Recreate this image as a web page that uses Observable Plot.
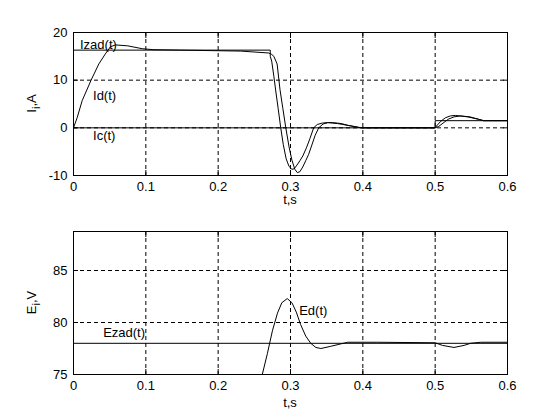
<!DOCTYPE html>
<html><head><meta charset="utf-8">
<script src="https://cdn.jsdelivr.net/npm/d3@7"></script>
<script src="https://cdn.jsdelivr.net/npm/@observablehq/plot@0.6"></script>
<style>
html,body{margin:0;padding:0;background:#fff;}
#chart{width:560px;height:420px;overflow:hidden;}
svg{display:block;}
</style></head><body><div id="chart"></div>
<script>
// ---- tick values and labels ----
const xTicks = [0, 0.1, 0.2, 0.3, 0.4, 0.5, 0.6];
const xTickLabels = ["0", "0.1", "0.2", "0.3", "0.4", "0.5", "0.6"];
const iTicks = [-10, 0, 10, 20];
const iTickLabels = ["-10", "0", "10", "20"];
const eTicks = [75, 80, 85];
const eTickLabels = ["75", "80", "85"];

// ---- top panel: currents ----
const izadT = [0, 0.272, 0.272, 0.274, 0.277, 0.280, 0.283, 0.2865, 0.290, 0.294, 0.298, 0.302, 0.305, 0.309, 0.313, 0.317, 0.322, 0.327, 0.332, 0.337, 0.344, 0.351, 0.365, 0.380, 0.394, 0.400, 0.500, 0.503, 0.508, 0.514, 0.521, 0.528, 0.545, 0.560, 0.567, 0.600];
const izadV = [16.3, 16.3, 15.0, 14.0, 10.8, 7.3, 4.0, 0.0, -3.5, -6.5, -8.1, -8.7, -8.6, -7.8, -6.9, -5.9, -4.2, -2.2, 0.0, 0.7, 1.0, 1.1, 0.9, 0.5, 0.1, 0.0, 0.0, 0.6, 1.4, 2.1, 2.5, 2.6, 2.3, 1.8, 1.5, 1.5];

const idT = [0, 0.005, 0.012, 0.024, 0.035, 0.044, 0.051, 0.058, 0.075, 0.095, 0.110, 0.148, 0.231, 0.270, 0.274, 0.277, 0.2815, 0.2855, 0.2895, 0.2935, 0.298, 0.302, 0.306, 0.3095, 0.313, 0.317, 0.321, 0.325, 0.330, 0.334, 0.339, 0.345, 0.352, 0.358, 0.370, 0.380, 0.394, 0.400, 0.500, 0.505, 0.511, 0.518, 0.526, 0.535, 0.548, 0.560, 0.567, 0.600];
const idV = [0, 2.1, 5.7, 9.9, 13.4, 15.5, 17.0, 17.4, 17.2, 16.6, 16.4, 16.3, 16.1, 15.7, 15.4, 15.0, 13.4, 8.0, 4.0, 0.0, -4.0, -6.8, -8.7, -9.4, -9.2, -8.2, -6.9, -5.6, -3.4, -1.6, 0.0, 0.8, 1.1, 1.1, 0.9, 0.5, 0.1, 0.0, 0.0, 0.3, 1.0, 1.8, 2.3, 2.5, 2.3, 1.8, 1.5, 1.5];

const icT = [0, 0.5, 0.5, 0.6];
const icV = [0, 0, 1.5, 1.5];

const topLabels = ["Izad(t)", "Id(t)", "Ic(t)"];
const topLabelT = [0.009, 0.027, 0.027];
const topLabelV = [17.4, 6.7, -1.6];

// ---- bottom panel: voltages ----
const ezadT = [0, 0.6];
const ezadV = [78.0, 78.0];

const edT = [0.261, 0.268, 0.275, 0.282, 0.288, 0.2955, 0.302, 0.308, 0.314, 0.321, 0.328, 0.335, 0.342, 0.355, 0.367, 0.379, 0.420, 0.500, 0.510, 0.526, 0.540, 0.549, 0.563, 0.600];
const edV = [75.0, 77.0, 79.2, 80.9, 81.9, 82.3, 81.9, 81.0, 79.8, 78.7, 78.0, 77.6, 77.5, 77.7, 77.9, 78.1, 78.1, 78.05, 77.8, 77.6, 77.8, 78.0, 78.1, 78.1];

const botLabels = ["Ezad(t)", "Ed(t)"];
const botLabelT = [0.041, 0.312];
const botLabelV = [79.0, 81.1];

// ---- helpers ----
const FONT = "'Liberation Sans', Arial, Helvetica, sans-serif";
const zip = (T, V) => T.map((t, i) => ({t, v: V[i]}));
const labelRows = (S, T, V) => S.map((s, i) => ({s, t: T[i], v: V[i]}));

function panel(cfg) {
  const W = 560, mL = 73, mR = 53;
  const plotH = cfg.height - cfg.mt - cfg.mb;
  const fmt = (ticks, labels) => d => { const k = ticks.findIndex(x => Math.abs(x - d) < 1e-9); return k < 0 ? "" : labels[k]; };
  const ax = {tickSize: -5, tickPadding: 11, label: null};
  const svg = Plot.plot({
    width: W, height: cfg.height,
    marginLeft: mL, marginRight: mR, marginTop: cfg.mt, marginBottom: cfg.mb,
    style: {fontFamily: FONT, fontSize: "13px", color: "black", background: "white"},
    x: {domain: [0, 0.6]},
    y: {domain: cfg.yDomain},
    marks: [
      Plot.gridX({ticks: xTicks, stroke: "black", strokeOpacity: 1, strokeWidth: 1, strokeDasharray: "4,3"}),
      Plot.gridY({ticks: cfg.yTicks, stroke: "black", strokeOpacity: 1, strokeWidth: 1, strokeDasharray: "4,3"}),
      ...cfg.series.map(s => Plot.line(s, {x: "t", y: "v", stroke: "black", strokeWidth: 1, clip: true})),
      Plot.text(cfg.labels, {x: "t", y: "v", text: "s", textAnchor: "start", fill: "black", fontSize: 13}),
      Plot.axisX({...ax, ticks: xTicks, anchor: "bottom", tickFormat: fmt(xTicks, xTickLabels)}),
      Plot.axisX({...ax, ticks: xTicks, anchor: "top", tickFormat: () => ""}),
      Plot.axisY({...ax, ticks: cfg.yTicks, anchor: "left", tickFormat: fmt(cfg.yTicks, cfg.yTickLabels)}),
      Plot.axisY({...ax, ticks: cfg.yTicks, anchor: "right", tickFormat: () => ""}),
      Plot.frame({stroke: "black", strokeWidth: 1, shapeRendering: "crispEdges"})
    ]
  });
  const s = d3.select(svg);
  s.append("text")
    .attr("x", mL + (W - mL - mR) / 2).attr("y", cfg.mt + plotH + cfg.xLabelDy)
    .attr("text-anchor", "middle").attr("font-family", FONT).attr("font-size", 13).attr("fill", "black")
    .text(cfg.xLabel);
  const t = s.append("text")
    .attr("transform", `translate(${mL - 37},${cfg.mt + plotH / 2}) rotate(-90)`)
    .attr("text-anchor", "middle").attr("font-family", FONT).attr("font-size", 13).attr("fill", "black");
  t.append("tspan").text(cfg.yMain);
  t.append("tspan").attr("dy", 4).attr("font-size", 11).text(cfg.ySub);
  t.append("tspan").attr("dy", -4).text(cfg.yTail);
  return svg;
}

const topPanel = panel({
  height: 210, mt: 32, mb: 35, yDomain: [-10, 20], yTicks: iTicks, yTickLabels: iTickLabels,
  series: [zip(izadT, izadV), zip(idT, idV), zip(icT, icV)],
  labels: labelRows(topLabels, topLabelT, topLabelV),
  xLabel: "t,s", xLabelDy: 29, yMain: "I", ySub: "i", yTail: ",A"
});
const bottomPanel = panel({
  height: 210, mt: 21, mb: 46, yDomain: [75, 88.75], yTicks: eTicks, yTickLabels: eTickLabels,
  series: [zip(ezadT, ezadV), zip(edT, edV)],
  labels: labelRows(botLabels, botLabelT, botLabelV),
  xLabel: "t,s", xLabelDy: 33, yMain: "E", ySub: "i", yTail: ",V"
});
const root = document.getElementById("chart");
root.appendChild(topPanel);
root.appendChild(bottomPanel);
</script></body></html>
